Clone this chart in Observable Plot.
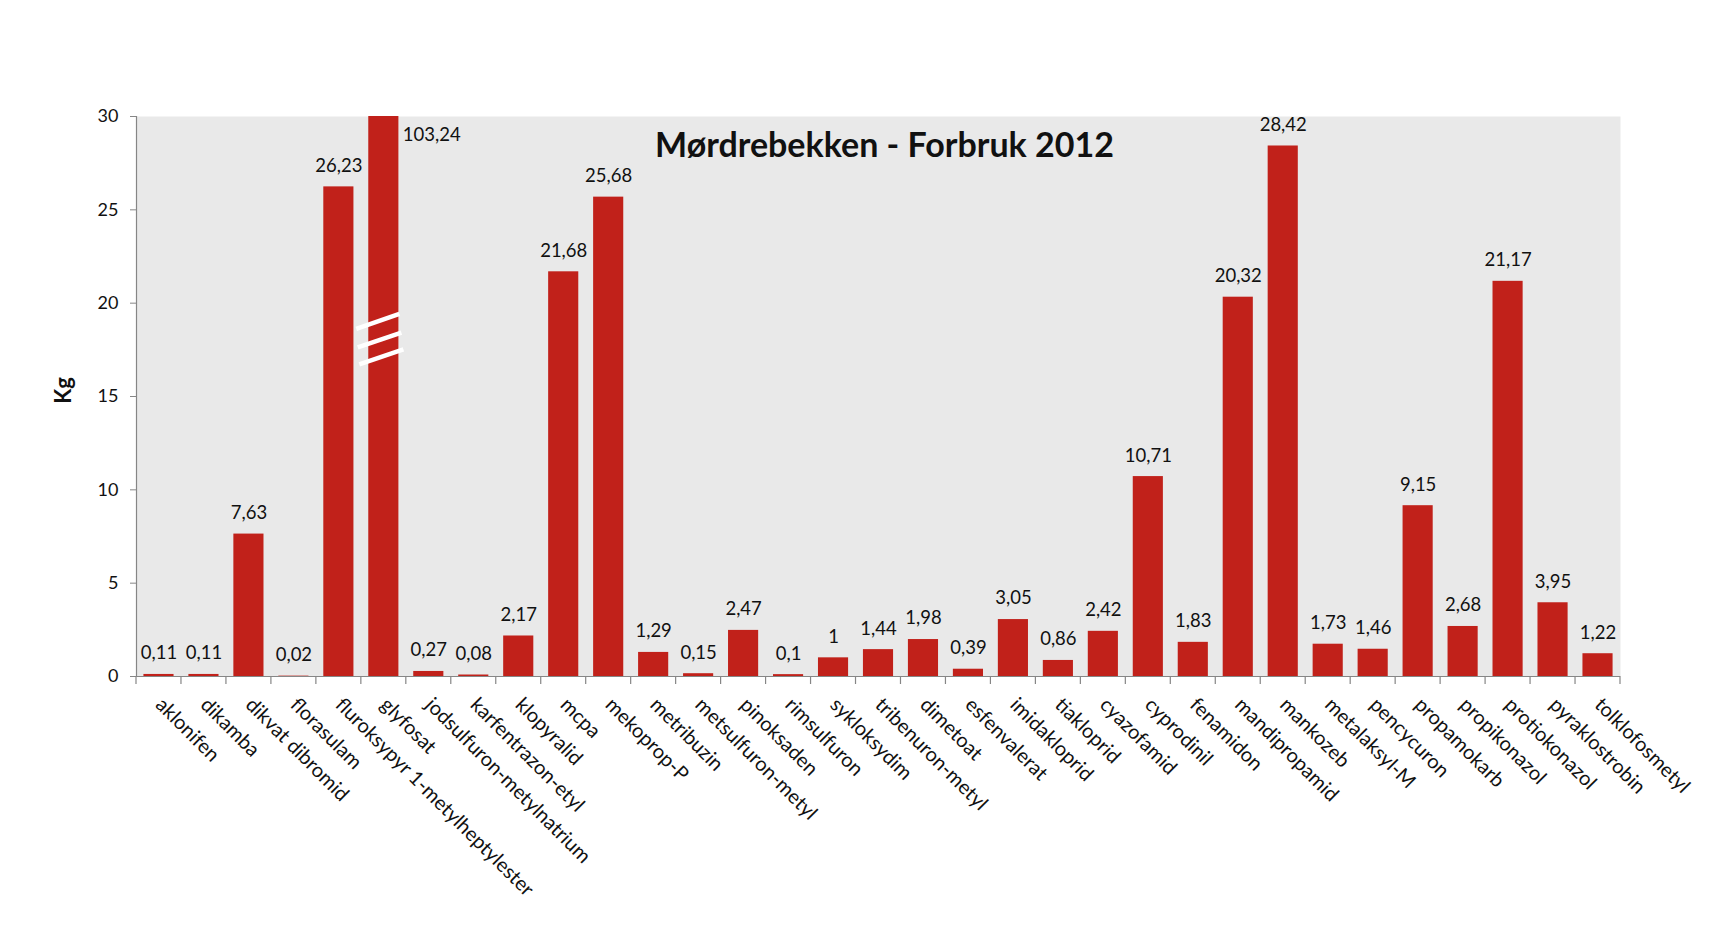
<!DOCTYPE html>
<html>
<head>
<meta charset="utf-8">
<script src="https://cdn.jsdelivr.net/npm/d3@7"></script>
<script src="https://cdn.jsdelivr.net/npm/@observablehq/plot@0.6"></script>
<style>
  html, body { margin: 0; padding: 0; background: #fff; }
  #chart svg { display: block; }
</style>
</head>
<body>
<div id="chart"></div>
<script>
const title = "Mørdrebekken - Forbruk 2012";
const yLabel = "Kg";
const categories = [
  "aklonifen", "dikamba", "dikvat dibromid", "florasulam",
  "fluroksypyr 1-metylheptylester", "glyfosat", "jodsulfuron-metylnatrium",
  "karfentrazon-etyl", "klopyralid", "mcpa", "mekoprop-P", "metribuzin",
  "metsulfuron-metyl", "pinoksaden", "rimsulfuron", "sykloksydim",
  "tribenuron-metyl", "dimetoat", "esfenvalerat", "imidakloprid", "tiakloprid",
  "cyazofamid", "cyprodinil", "fenamidon", "mandipropamid", "mankozeb",
  "metalaksyl-M", "pencycuron", "propamokarb", "propikonazol", "protiokonazol",
  "pyraklostrobin", "tolklofosmetyl"
];
const values = [
  0.11, 0.11, 7.63, 0.02,
  26.23, 103.24, 0.27,
  0.08, 2.17, 21.68, 25.68, 1.29,
  0.15, 2.47, 0.1, 1,
  1.44, 1.98, 0.39, 3.05, 0.86,
  2.42, 10.71, 1.83, 20.32, 28.42,
  1.73, 1.46, 9.15, 2.68, 21.17,
  3.95, 1.22
];
const yTicks = [0, 5, 10, 15, 20, 25, 30];
const yMax = 30;
// axis break marks on the clipped bar (value ranges in Kg)
const breakCategory = "glyfosat";
const breakLow = [18.6, 17.6, 16.7];
const breakHigh = [19.4, 18.4, 17.5];

const data = categories.map((c, i) => ({name: c, value: values[i]}));
const fmt = v => String(v).replace(".", ",");

const barColor = "#C1211A";
const axisColor = "#868686";
const textColor = "#111";

function decor(index, scales, vals, dims) {
  const x = scales.x, y = scales.y;
  const bw = typeof x.bandwidth === "function" ? x.bandwidth() : x.bandwidth;
  const step = x(categories[1]) - x(categories[0]);
  const gap = step - bw;
  const g = d3.create("svg:g");
  const x0 = dims.marginLeft, x1 = dims.width - dims.marginRight;
  const y0 = dims.height - dims.marginBottom, yTop = dims.marginTop;
  g.append("line").attr("x1", x0).attr("x2", x1).attr("y1", y0 + 0.5).attr("y2", y0 + 0.5)
    .attr("stroke", axisColor).attr("stroke-width", 1.2);
  g.append("line").attr("x1", x0 + 0.5).attr("x2", x0 + 0.5).attr("y1", yTop).attr("y2", y0)
    .attr("stroke", axisColor).attr("stroke-width", 1.2);
  const bounds = categories.map(c => x(c) - gap / 2);
  bounds.push(x(categories[categories.length - 1]) + bw + gap / 2);
  for (const b of bounds) {
    g.append("line").attr("x1", b).attr("x2", b).attr("y1", y0).attr("y2", y0 + 8)
      .attr("stroke", axisColor).attr("stroke-width", 1.2);
  }
  const bx = x(breakCategory);
  breakLow.forEach((lo, i) => {
    g.append("line")
      .attr("x1", bx - 12 + i * 1.5).attr("y1", y(lo))
      .attr("x2", bx + bw + 1 + i * 2).attr("y2", y(breakHigh[i]))
      .attr("stroke", "#fff").attr("stroke-width", 4.5);
  });
  return g.node();
}

const chart = Plot.plot({
  width: 1711,
  height: 948,
  marginTop: 116,
  marginBottom: 272,
  marginLeft: 136,
  marginRight: 91,
  style: {fontFamily: "Lato, 'Open Sans', sans-serif", color: textColor, background: "#fff"},
  x: {type: "band", domain: categories, paddingInner: 0.33, paddingOuter: 0.165, label: null},
  y: {domain: [0, yMax], clamp: true, label: null},
  marks: [
    Plot.frame({fill: "#E9E9E9", stroke: "none"}),
    Plot.barY(data, {x: "name", y: "value", fill: barColor}),
    Plot.text(data.filter(d => d.value <= yMax), {
      x: "name", y: "value", text: d => fmt(d.value), dy: -21,
      fontSize: 18.5, fill: textColor
    }),
    Plot.text(data.filter(d => d.value > yMax), {
      x: "name", y: yMax, text: d => fmt(d.value), dx: 19, dy: 19,
      textAnchor: "start", fontSize: 18.5, fill: textColor
    }),
    Plot.axisY({ticks: yTicks, tickSize: 6, tickPadding: 12, fontSize: 18,
      stroke: axisColor, fill: textColor, label: null}),
    Plot.axisX({tickSize: 0, tickRotate: 45, tickPadding: 25, fontSize: 20,
      fill: textColor, label: null}),
    decor,
    Plot.text([yLabel], {frameAnchor: "left", dx: -72.5, dy: -6, rotate: -90,
      textAnchor: "middle", lineAnchor: "middle",
      fontSize: 22, fontWeight: "bold", fill: textColor}),
    Plot.text([title], {frameAnchor: "top", dx: 6, dy: 29.5,
      textAnchor: "middle", lineAnchor: "middle",
      fontSize: 34, fontWeight: "bold", fill: textColor})
  ]
});
document.getElementById("chart").append(chart);
</script>
</body>
</html>
